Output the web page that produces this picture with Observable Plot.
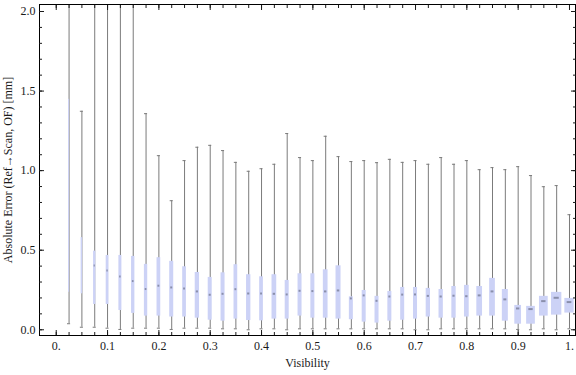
<!DOCTYPE html>
<html>
<head>
<meta charset="utf-8">
<script src="https://cdn.jsdelivr.net/npm/d3@7"></script>
<script src="https://cdn.jsdelivr.net/npm/@observablehq/plot@0.6"></script>
<style>
  html, body { margin: 0; padding: 0; background: white; }
</style>
</head>
<body>
<div id="chart"></div>
<script>
// Visibility bins (box positions)
const visibility = [0.025, 0.05, 0.075, 0.1, 0.125, 0.15, 0.175, 0.2, 0.225, 0.25,
  0.275, 0.3, 0.325, 0.35, 0.375, 0.4, 0.425, 0.45, 0.475, 0.5,
  0.525, 0.55, 0.575, 0.6, 0.625, 0.65, 0.675, 0.7, 0.725, 0.75,
  0.775, 0.8, 0.825, 0.85, 0.875, 0.9, 0.925, 0.95, 0.975, 1.0];

// Whisker minimum
const whiskerLow = [0.038, 0.016, 0.016, 0.01, 0.002, 0.01, 0.01, 0.01, 0.002, 0.01,
  0.01, 0.01, 0.006, 0.006, 0.0, 0.006, 0.006, 0.0, 0.006, 0.006,
  0.006, 0.006, 0.006, 0.006, 0.006, 0.006, 0.006, 0.0, 0.0, 0.006,
  0.006, 0.006, 0.006, 0.006, 0.006, 0.002, 0.0, 0.006, 0.0, 0.006];

// Lower quartile
const q1 = [0.236, 0.226, 0.159, 0.159, 0.121, 0.103, 0.086, 0.086, 0.08, 0.08,
  0.073, 0.06, 0.054, 0.067, 0.058, 0.056, 0.067, 0.067, 0.086, 0.073,
  0.073, 0.067, 0.063, 0.048, 0.042, 0.054, 0.06, 0.067, 0.08, 0.073,
  0.073, 0.08, 0.086, 0.086, 0.054, 0.035, 0.035, 0.086, 0.092, 0.105];

// Median
const median = [0.81, 0.43, 0.404, 0.373, 0.335, 0.306, 0.256, 0.277, 0.266, 0.26,
  0.241, 0.22, 0.226, 0.255, 0.228, 0.228, 0.226, 0.222, 0.245, 0.243,
  0.241, 0.247, 0.197, 0.216, 0.182, 0.209, 0.221, 0.222, 0.213, 0.209,
  0.214, 0.211, 0.216, 0.241, 0.191, 0.134, 0.13, 0.18, 0.201, 0.174];

// Upper quartile
const q3 = [1.448, 0.579, 0.494, 0.467, 0.467, 0.461, 0.411, 0.453, 0.43, 0.396,
  0.36, 0.329, 0.358, 0.409, 0.346, 0.333, 0.346, 0.31, 0.352, 0.352,
  0.377, 0.402, 0.207, 0.247, 0.21, 0.241, 0.266, 0.266, 0.26, 0.253,
  0.272, 0.279, 0.272, 0.323, 0.253, 0.153, 0.147, 0.21, 0.235, 0.197];

// Whisker maximum (values above the plot range are clipped)
const whiskerHigh = [2.5, 1.373, 2.5, 2.5, 2.5, 2.5, 1.358, 1.094, 0.811, 1.063,
  1.147, 1.159, 1.126, 1.052, 0.996, 1.012, 1.04, 1.233, 1.082, 1.063,
  1.216, 1.088, 1.057, 1.063, 1.05, 1.071, 1.052, 1.063, 1.04, 1.082,
  1.04, 1.063, 1.006, 1.019, 1.006, 1.025, 0.969, 0.899, 0.906, 0.723];

// Relative sample weight per bin (drives box width)
const sampleWeight = [0.25, 0.38, 0.58, 0.68, 0.75, 0.83, 0.83, 0.93, 1.0, 0.93,
  1.08, 1.0, 1.0, 0.93, 1.08, 0.93, 1.18, 1.0, 1.0, 1.0,
  1.18, 1.25, 1.0, 1.0, 1.0, 1.0, 1.0, 1.0, 1.08, 1.08,
  1.08, 1.18, 1.43, 1.43, 1.5, 1.68, 2.18, 2.18, 2.58, 2.33];

// Ticks
const xMajorTicks = [0, 0.1, 0.2, 0.3, 0.4, 0.5, 0.6, 0.7, 0.8, 0.9, 1.0];
const xTickLabels = ["0.", "0.1", "0.2", "0.3", "0.4", "0.5", "0.6", "0.7", "0.8", "0.9", "1."];
const xMinorTicks = [0, 0.025, 0.05, 0.075, 0.1, 0.125, 0.15, 0.175, 0.2, 0.225, 0.25,
  0.275, 0.3, 0.325, 0.35, 0.375, 0.4, 0.425, 0.45, 0.475, 0.5,
  0.525, 0.55, 0.575, 0.6, 0.625, 0.65, 0.675, 0.7, 0.725, 0.75,
  0.775, 0.8, 0.825, 0.85, 0.875, 0.9, 0.925, 0.95, 0.975, 1.0];
const yMajorTicks = [0, 0.5, 1.0, 1.5, 2.0];
const yTickLabels = ["0.0", "0.5", "1.0", "1.5", "2.0"];
const yMinorTicks = [0, 0.1, 0.2, 0.3, 0.4, 0.5, 0.6, 0.7, 0.8, 0.9, 1.0,
  1.1, 1.2, 1.3, 1.4, 1.5, 1.6, 1.7, 1.8, 1.9, 2.0];

const xLabel = "Visibility";
const yLabel = "Absolute Error (Ref\u2192Scan, OF) [mm]";

const rows = visibility.map((v, i) => ({
  v, lo: whiskerLow[i], q1: q1[i], med: median[i], q3: q3[i], hi: whiskerHigh[i], w: sampleWeight[i]
}));

const xLab = new Map(xMajorTicks.map((v, i) => [v, xTickLabels[i]]));
const yLab = new Map(yMajorTicks.map((v, i) => [v, yTickLabels[i]]));

const halfW = d => d.w * 0.0039;
const capHalf = 0.003;
const whiskerColor = "#7b7b7b";
const font = "'Liberation Serif', 'Times New Roman', serif";

const chart = Plot.plot({
  width: 576,
  height: 375,
  marginLeft: 39,
  marginRight: 1,
  marginTop: 4,
  marginBottom: 40,
  x: {domain: [-0.0326, 1.0117]},
  y: {domain: [-0.036, 2.044]},
  style: {fontFamily: font, fontSize: "12px", color: "#1a1a1a", background: "white"},
  marks: [
    Plot.ruleX(rows, {x: "v", y1: "lo", y2: "hi", stroke: whiskerColor, strokeWidth: 1, clip: true}),
    Plot.ruleY(rows, {y: "lo", x1: d => d.v - capHalf, x2: d => d.v + capHalf, stroke: whiskerColor, clip: true}),
    Plot.ruleY(rows, {y: "hi", x1: d => d.v - capHalf, x2: d => d.v + capHalf, stroke: whiskerColor, clip: true}),
    Plot.rect(rows, {x1: d => d.v - halfW(d), x2: d => d.v + halfW(d), y1: "q1", y2: "q3", fill: "#ccd2f6"}),
    Plot.ruleY(rows.filter(d => d.w >= 0.5), {y: "med", x1: d => d.v - halfW(d) * 0.5, x2: d => d.v + halfW(d) * 0.5, stroke: "#8a8fab", strokeWidth: 2}),
    Plot.frame({stroke: "black"}),
    // inward ticks on all four sides
    Plot.axisX({ticks: xMinorTicks, anchor: "bottom", tickSize: -3, tickFormat: () => "", label: null}),
    Plot.axisX({ticks: xMajorTicks, anchor: "bottom", tickSize: -5, tickFormat: () => "", label: null}),
    Plot.axisX({ticks: xMinorTicks, anchor: "top", tickSize: -3, tickFormat: () => "", label: null}),
    Plot.axisX({ticks: xMajorTicks, anchor: "top", tickSize: -5, tickFormat: () => "", label: null}),
    Plot.axisY({ticks: yMinorTicks, anchor: "left", tickSize: -3, tickFormat: () => "", label: null}),
    Plot.axisY({ticks: yMajorTicks, anchor: "left", tickSize: -5, tickFormat: () => "", label: null}),
    Plot.axisY({ticks: yMinorTicks, anchor: "right", tickSize: -3, tickFormat: () => "", label: null}),
    Plot.axisY({ticks: yMajorTicks, anchor: "right", tickSize: -5, tickFormat: () => "", label: null}),
    // tick labels
    Plot.axisX({ticks: xMajorTicks, anchor: "bottom", tickSize: 0, tickPadding: 6, tickFormat: d => xLab.get(d), label: null}),
    Plot.axisY({ticks: yMajorTicks, anchor: "left", tickSize: 0, tickPadding: 4, tickFormat: d => yLab.get(d), label: null}),
    // axis titles
    Plot.text([xLabel], {frameAnchor: "bottom", dy: 31, text: d => d, fontSize: 12, textAnchor: "middle"}),
    Plot.text([yLabel], {frameAnchor: "left", dx: -31, rotate: -90, text: d => d, fontSize: 12, textAnchor: "middle"})
  ]
});

document.getElementById("chart").appendChild(chart);
</script>
</body>
</html>
